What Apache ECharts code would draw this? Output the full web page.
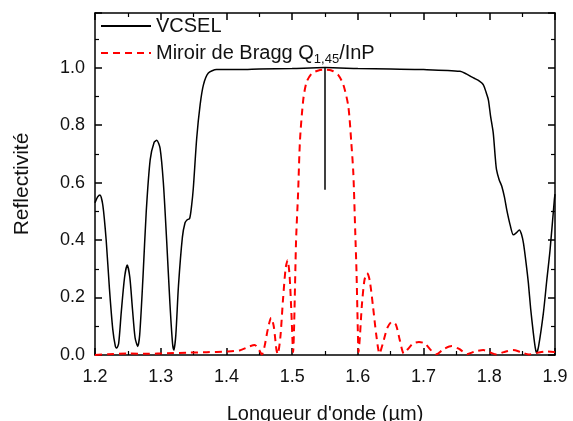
<!DOCTYPE html>
<html>
<head>
<meta charset="utf-8">
<script src="https://cdn.jsdelivr.net/npm/echarts@6/dist/echarts.min.js"></script>
<style>
html,body{margin:0;padding:0;background:#fff;}
#chart{width:573px;height:421px;}
</style>
</head>
<body>
<div id="chart"></div>
<script>
// Wavelength (µm) and reflectivity for the VCSEL
var vcselLambda = [1.200,1.204,1.2076,1.212,1.217,1.222,1.227,1.231,1.233,1.236,1.240,1.245,1.249,1.253,1.257,1.261,1.265,1.268,1.273,1.278,1.284,1.290,1.294,1.299,1.304,1.309,1.314,1.318,1.320,1.323,1.327,1.333,1.337,1.340,1.344,1.347,1.3496,1.3548,1.360,1.365,1.3725,1.385,1.420,1.450,1.500,1.550,1.600,1.650,1.700,1.7555,1.765,1.776,1.785,1.791,1.795,1.7986,1.802,1.806,1.809,1.811,1.815,1.819,1.823,1.8266,1.832,1.8366,1.841,1.8458,1.849,1.852,1.856,1.8595,1.863,1.867,1.870,1.872,1.875,1.8823,1.8875,1.8925,1.899,1.900];
var vcselR = [0.53,0.55,0.557,0.52,0.40,0.23,0.09,0.03,0.024,0.04,0.15,0.27,0.313,0.27,0.16,0.06,0.03,0.07,0.27,0.50,0.68,0.74,0.747,0.72,0.60,0.40,0.18,0.04,0.017,0.07,0.24,0.41,0.46,0.47,0.475,0.52,0.58,0.755,0.871,0.94,0.981,0.993,0.993,0.995,0.997,1.0,0.997,0.995,0.993,0.987,0.978,0.964,0.953,0.94,0.915,0.888,0.83,0.773,0.69,0.645,0.61,0.587,0.55,0.505,0.45,0.418,0.425,0.435,0.42,0.389,0.32,0.25,0.16,0.077,0.025,0.007,0.03,0.146,0.26,0.366,0.54,0.56];
// Vertical spike in the VCSEL trace at 1.55 µm
var spikeLambda = [1.55,1.55];
var spikeR = [1.0,0.575];
// Bragg mirror Q1,45/InP
var braggLambda = [1.200,1.220,1.250,1.280,1.310,1.340,1.370,1.400,1.420,1.435,1.443,1.449,1.454,1.458,1.463,1.468,1.472,1.476,1.478,1.482,1.486,1.490,1.493,1.496,1.499,1.5015,1.503,1.506,1.509,1.512,1.517,1.522,1.530,1.540,1.550,1.560,1.570,1.578,1.5855,1.590,1.5931,1.596,1.598,1.600,1.601,1.603,1.606,1.610,1.614,1.618,1.623,1.628,1.633,1.638,1.645,1.652,1.658,1.664,1.670,1.676,1.684,1.693,1.702,1.712,1.720,1.730,1.743,1.755,1.766,1.778,1.791,1.800,1.811,1.822,1.836,1.848,1.860,1.872,1.887,1.900];
var braggR = [0.0,0.003,0.005,0.004,0.006,0.008,0.01,0.012,0.016,0.03,0.035,0.02,0.002,0.03,0.09,0.13,0.10,0.02,0.003,0.06,0.19,0.30,0.33,0.28,0.14,0.01,0.10,0.40,0.56,0.75,0.89,0.95,0.98,0.99,0.993,0.99,0.975,0.94,0.865,0.74,0.633,0.43,0.285,0.08,0.01,0.06,0.17,0.26,0.285,0.26,0.17,0.07,0.005,0.04,0.095,0.116,0.105,0.05,0.005,0.02,0.04,0.045,0.04,0.015,0.003,0.02,0.031,0.02,0.003,0.012,0.017,0.01,0.002,0.01,0.017,0.01,0.002,0.007,0.012,0.01];
var xTicks = [1.2,1.3,1.4,1.5,1.6,1.7,1.8,1.9];
var yTicks = [0.0,0.2,0.4,0.6,0.8,1.0];

function pairs(a,b){var o=[];for(var i=0;i<a.length;i++)o.push([a[i],b[i]]);return o;}

var font = 'Liberation Sans, Arial, sans-serif';
var axisBase = {
  axisLine:{show:true,onZero:false,lineStyle:{color:'#000',width:1.5}},
  axisTick:{show:true,inside:true,length:7,lineStyle:{color:'#000',width:1.5}},
  minorTick:{show:true,splitNumber:2,length:4,lineStyle:{color:'#000',width:1.2}},
  splitLine:{show:false}
};
function ax(extra){return Object.assign({},JSON.parse(JSON.stringify(axisBase)),extra);}

var chart = echarts.init(document.getElementById('chart'));
chart.setOption({
  animation:false,
  backgroundColor:'#fff',
  textStyle:{fontFamily:font},
  grid:{left:95,right:18,top:13,bottom:66,containLabel:false,outerBoundsMode:'none'},
  legend:{
    orient:'vertical',left:95,top:11,itemGap:7,itemWidth:50,itemHeight:16,
    itemStyle:{color:'rgba(0,0,0,0)',borderWidth:0,opacity:0},
    data:['VCSEL','Bragg'],
    textStyle:{fontFamily:font,fontSize:20,color:'#111',
      rich:{n:{fontSize:20,color:'#111',fontFamily:font},s:{fontSize:13,color:'#111',fontFamily:font,padding:[13,0,0,0]}}},
    formatter:function(name){
      if(name==='VCSEL') return 'VCSEL';
      return '{n|Miroir de Bragg Q}{s|1,45}{n|/InP}';
    }
  },
  xAxis:[
    ax({type:'value',position:'bottom',min:1.2,max:1.9,interval:0.1,
      axisLabel:{fontSize:18,color:'#111',margin:13,fontFamily:font,
        formatter:function(v){return v.toFixed(1);}},
      name:"Longueur d'onde (µm)",nameLocation:'middle',nameGap:49,
      nameTextStyle:{fontSize:20,color:'#111',fontFamily:font}}),
    ax({type:'value',position:'top',min:1.2,max:1.9,interval:0.1,axisLabel:{show:false}})
  ],
  yAxis:[
    ax({type:'value',position:'left',min:0,max:1.19,interval:0.2,
      axisLabel:{fontSize:18,color:'#111',margin:10,fontFamily:font,showMaxLabel:false,
        formatter:function(v){return v.toFixed(1);}},
      name:'Reflectivité',nameLocation:'middle',nameGap:62,nameRotate:90,
      nameTextStyle:{fontSize:21,color:'#111',fontFamily:font}}),
    ax({type:'value',position:'right',min:0,max:1.19,interval:0.2,axisLabel:{show:false}})
  ],
  series:[
    {name:'VCSEL',type:'line',data:pairs(vcselLambda,vcselR),showSymbol:false,symbol:'none',smooth:0.25,
      lineStyle:{color:'#000',width:1.5},itemStyle:{color:'#000'},z:3},
    {name:'spike',type:'line',data:pairs(spikeLambda,spikeR),showSymbol:false,symbol:'none',
      lineStyle:{color:'#000',width:1.5},itemStyle:{color:'#000'},z:3},
    {name:'Bragg',type:'line',data:pairs(braggLambda,braggR),showSymbol:false,symbol:'none',smooth:0.25,
      lineStyle:{color:'#ff0000',width:2,type:[7,5]},itemStyle:{color:'#ff0000'},z:4}
  ]
});
</script>
</body>
</html>
